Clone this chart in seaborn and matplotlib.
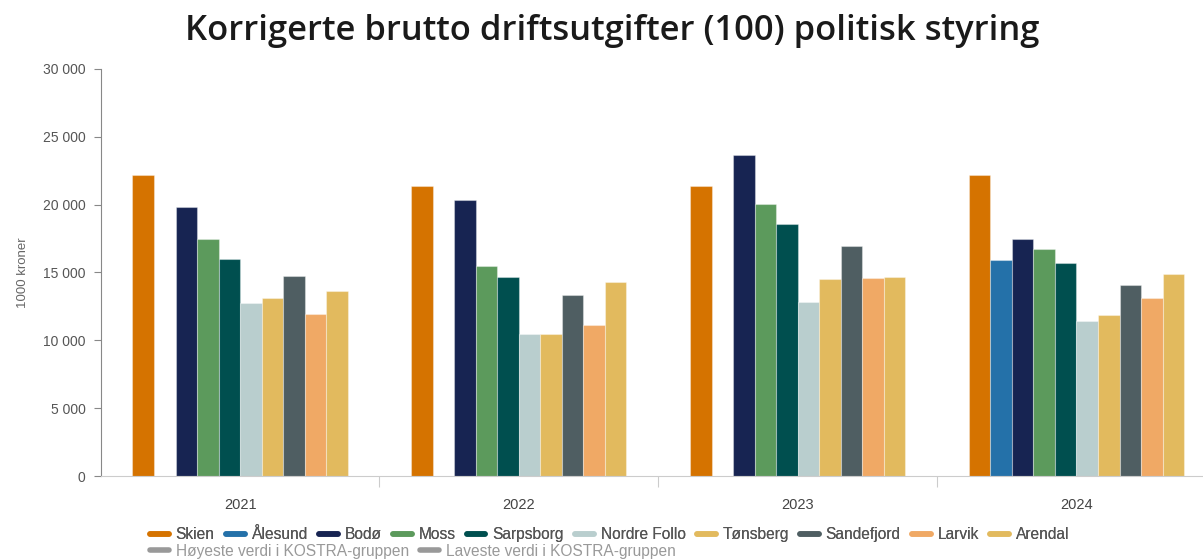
import numpy as np
import pandas as pd
import seaborn as sns
import matplotlib.pyplot as plt
from matplotlib.lines import Line2D

# Data (1000 kroner)
years = ["2021", "2022", "2023", "2024"]
kommuner = ["Skien", "Ålesund", "Bodø", "Moss", "Sarpsborg", "Nordre Follo",
            "Tønsberg", "Sandefjord", "Larvik", "Arendal"]
skien = [22200, 21400, 21400, 22200]
aalesund = [np.nan, np.nan, np.nan, 15950]
bodo = [19850, 20350, 23650, 17500]
moss = [17500, 15500, 20050, 16750]
sarpsborg = [16000, 14700, 18600, 15700]
nordre_follo = [12750, 10500, 12800, 11450]
tonsberg = [13150, 10500, 14500, 11850]
sandefjord = [14750, 13350, 16950, 14100]
larvik = [11950, 11150, 14600, 13150]
arendal = [13650, 14300, 14700, 14850]
extra_legend = ["Høyeste verdi i KOSTRA-gruppen", "Laveste verdi i KOSTRA-gruppen"]

colors = ["#D57300", "#2471A9", "#172452", "#5C9A5C", "#004F4F", "#B9CECE",
          "#E2BA5E", "#4F5E62", "#F0A965", "#E2BA5E"]

series = [skien, aalesund, bodo, moss, sarpsborg, nordre_follo,
          tonsberg, sandefjord, larvik, arendal]
rows = []
for name, vals in zip(kommuner, series):
    for yr, v in zip(years, vals):
        rows.append({"År": yr, "Kommune": name, "Verdi": v})
df = pd.DataFrame(rows)

sns.set_style("white")
plt.rcParams['font.family'] = ['Liberation Sans', 'DejaVu Sans']

fig = plt.figure(figsize=(12.03, 5.6), dpi=100)
# plot area runs slightly past the right edge, as in the original (cropped)
ax = fig.add_axes([0.0837, 0.15, 0.927, 0.727])

sns.barplot(data=df, x="År", y="Verdi", hue="Kommune", order=years,
            hue_order=kommuner, palette=colors, width=0.772, dodge=True,
            errorbar=None, saturation=1, legend=False, ax=ax,
            edgecolor=(1, 1, 1, 0.35), linewidth=0.8)

ax.set_ylim(0, 30000)
ax.set_xlim(-0.5, 3.5)
ax.set_yticks(range(0, 30001, 5000))
ax.set_yticklabels([f"{v:,}".replace(",", " ") for v in range(0, 30001, 5000)])
ax.set_ylabel("1000 kroner", color="#666666", fontsize=9.5, labelpad=10)
ax.set_xlabel("")

for s in ["top", "right"]:
    ax.spines[s].set_visible(False)
ax.spines["left"].set_color("#888888")
ax.spines["left"].set_linewidth(0.8)
ax.spines["bottom"].set_color("#cccccc")
ax.spines["bottom"].set_linewidth(0.8)

ax.tick_params(axis="y", left=True, length=5, width=0.8, color="#888888",
               labelsize=10, labelcolor="#555555", pad=6)
ax.tick_params(axis="x", bottom=False, labelsize=10.5, labelcolor="#444444", pad=12)
ax.set_xticks([0.5, 1.5, 2.5], minor=True)
ax.tick_params(axis="x", which="minor", bottom=True, length=8, width=0.8, color="#cccccc")

fig.text(0.509, 0.945, "Korrigerte brutto driftsutgifter (100) politisk styring",
         ha="center", va="center", fontsize=24.8, fontweight="semibold",
         family=["Open Sans", "DejaVu Sans"], color="#1a1a1a")

# legend
h1 = [Line2D([0], [0], color=c, lw=4) for c in colors]
leg1 = fig.legend(h1, kommuner, loc="center left", bbox_to_anchor=(0.1247, 0.045),
                  ncol=10, frameon=False, fontsize=11.2, handlelength=1.2,
                  handletextpad=0.45, columnspacing=0.72, borderaxespad=0,
                  borderpad=0, labelcolor="#555555")
h2 = [Line2D([0], [0], color="#999999", lw=4) for _ in extra_legend]
leg2 = fig.legend(h2, extra_legend, loc="center left", bbox_to_anchor=(0.1247, 0.016),
                  ncol=2, frameon=False, fontsize=11.2, handlelength=1.2,
                  handletextpad=0.45, columnspacing=0.72, borderaxespad=0,
                  borderpad=0, labelcolor="#999999")
fig.add_artist(leg1)

fig.savefig("out.png", dpi=100, facecolor="white")
